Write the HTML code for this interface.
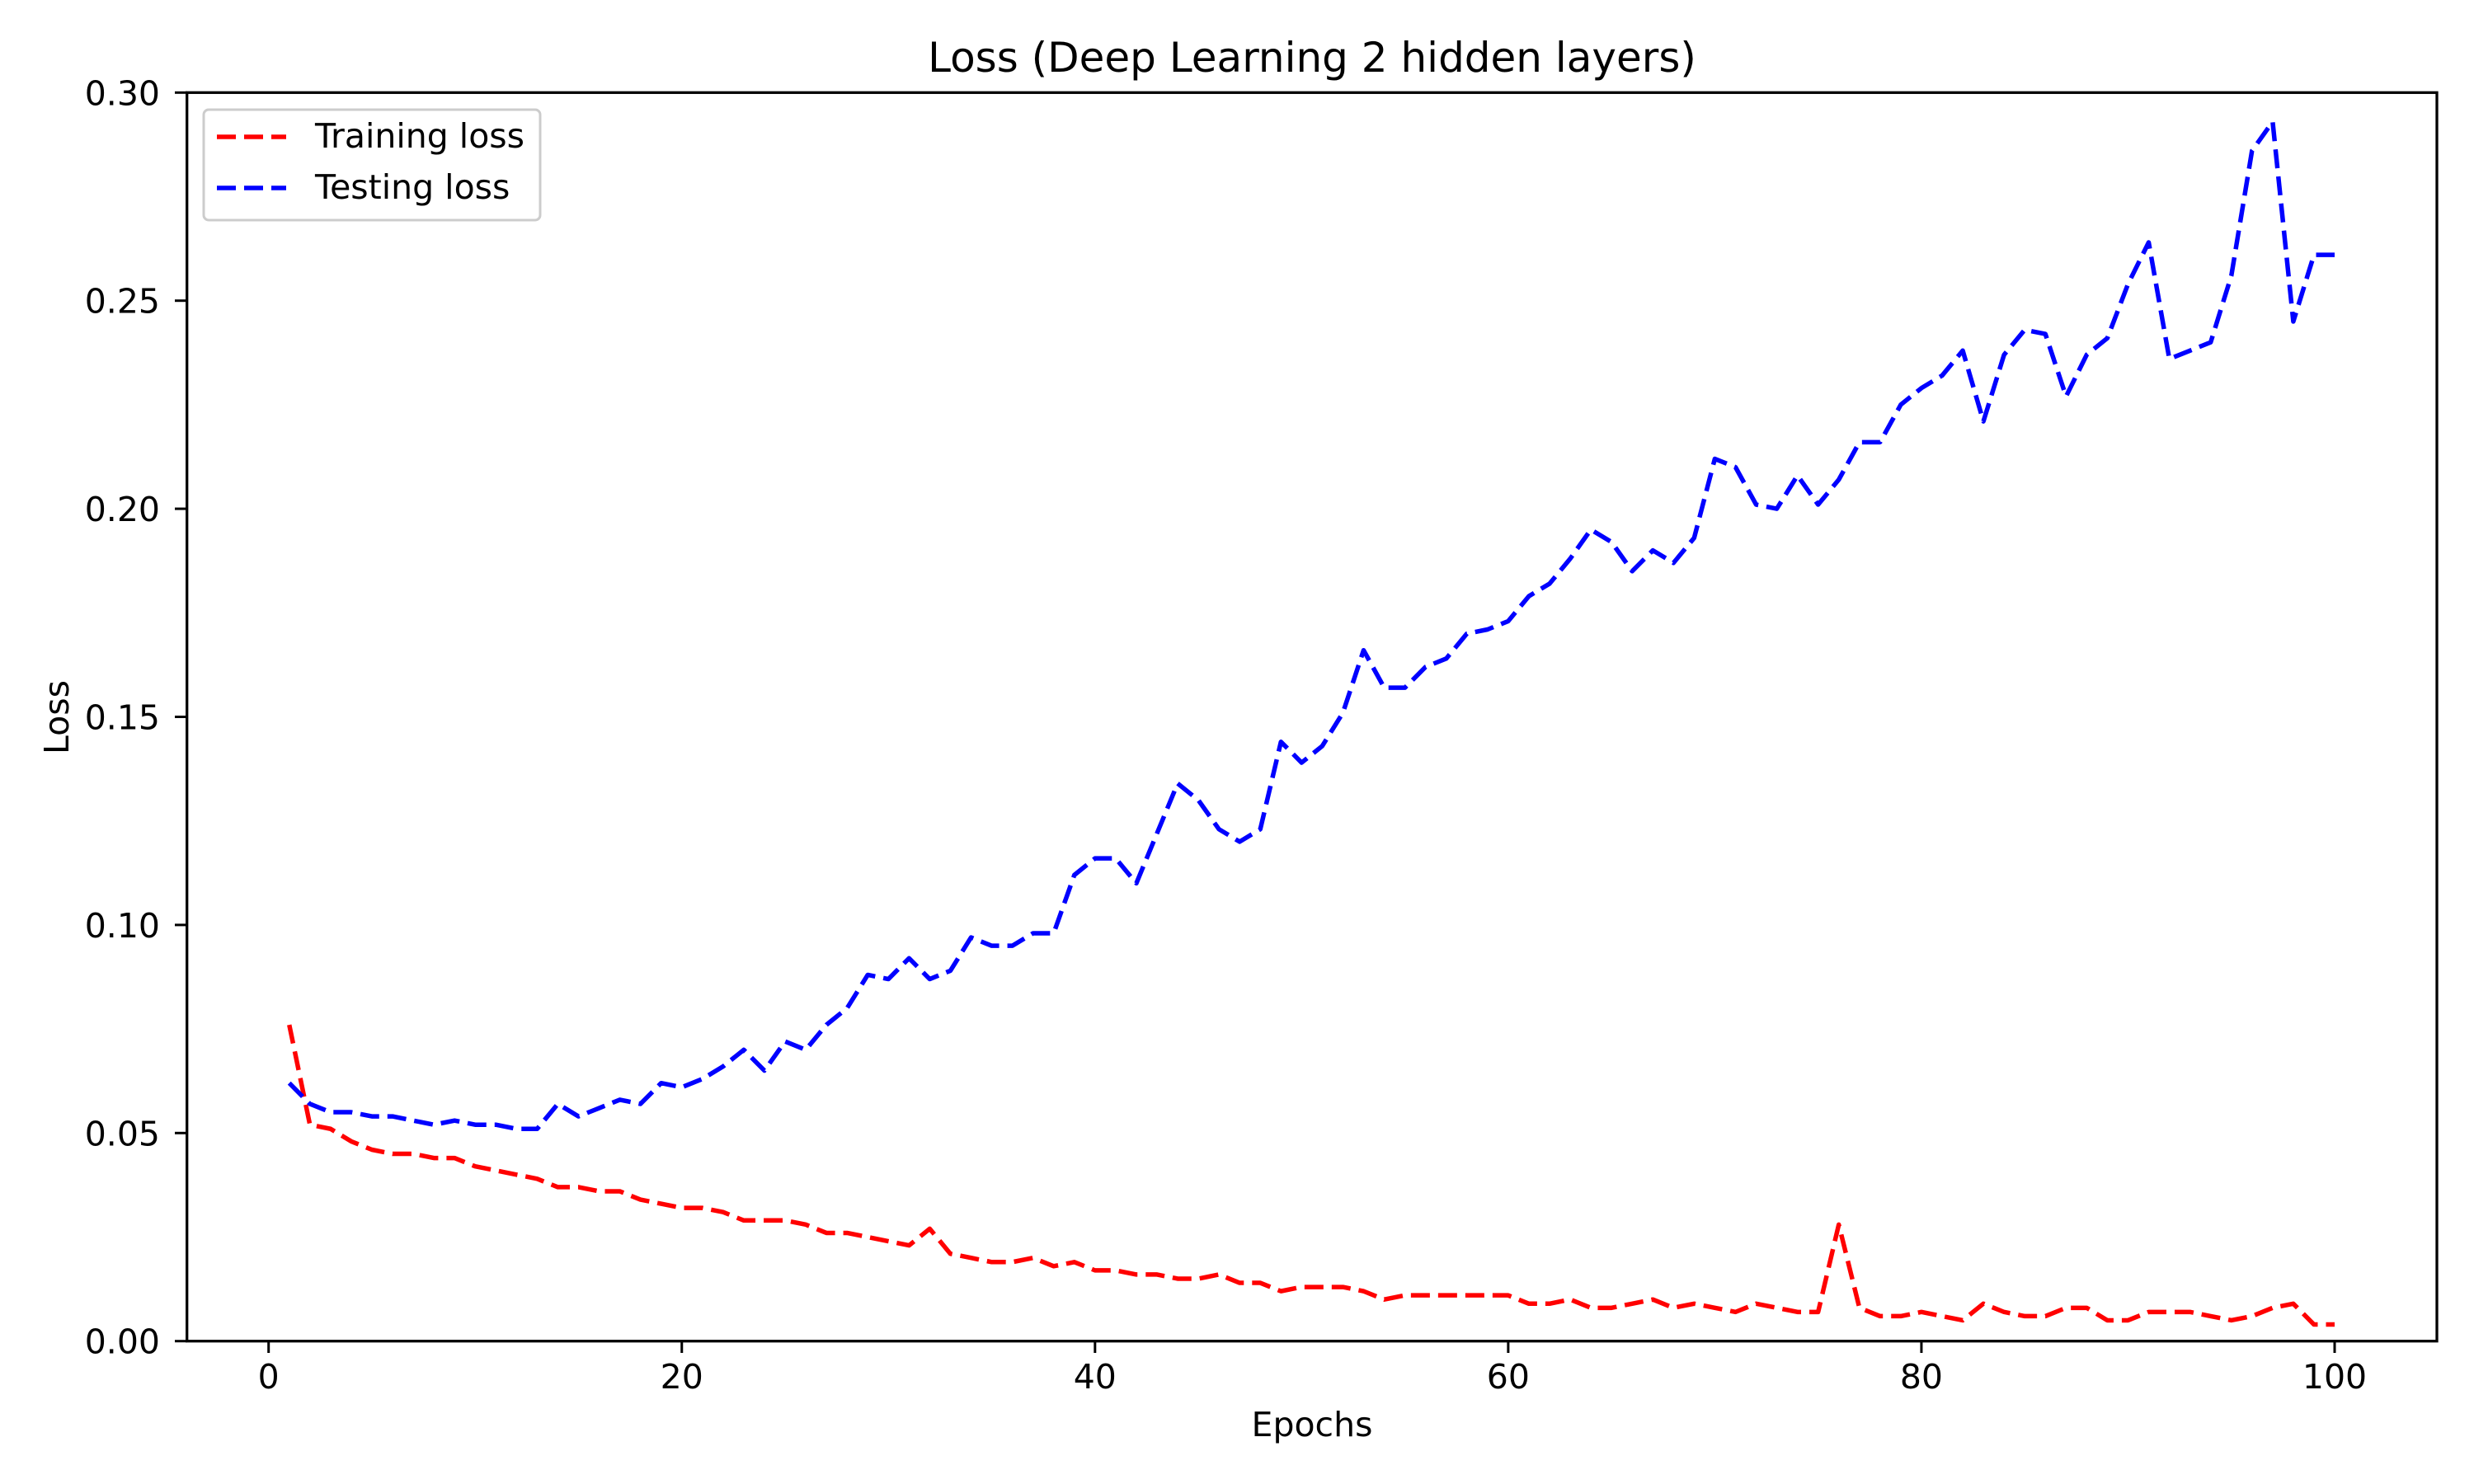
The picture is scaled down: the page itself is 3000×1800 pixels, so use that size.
<!DOCTYPE html>
<html><head><meta charset="utf-8"><style>
html,body{margin:0;padding:0;background:#fff;}
svg{display:block;font-family:"DejaVu Sans","Liberation Sans",sans-serif;}
</style></head><body>
<svg id="chart" width="3000" height="1800" viewBox="0 0 3000 1800" xmlns="http://www.w3.org/2000/svg">
<rect width="3000" height="1800" fill="#fff"/>
<text x="1591" y="87" font-size="50" text-anchor="middle">Loss (Deep Learning 2 hidden layers)</text>
<g id="ticks"></g>
<g id="lines"></g>
<rect x="226.7" y="112.3" width="2728.3" height="1514.4" fill="none" stroke="#000" stroke-width="3.3"/>
<text x="1591" y="1742" font-size="41" text-anchor="middle">Epochs</text>
<text transform="translate(83,870) rotate(-90)" font-size="41" text-anchor="middle">Loss</text>
<g>
<rect x="247" y="133" width="408" height="134" rx="6" fill="#fff" fill-opacity="0.8" stroke="#ccc" stroke-width="3"/>
<line x1="263" y1="166" x2="347" y2="166" stroke="#ff0000" stroke-width="5.5" stroke-dasharray="23,10"/>
<text x="382" y="179" font-size="41">Training loss</text>
<line x1="263" y1="228" x2="347" y2="228" stroke="#0000ff" stroke-width="5.5" stroke-dasharray="23,10"/>
<text x="382" y="241" font-size="41">Testing loss</text>
</g>
</svg>
<script>
const trainLoss=[0.076,0.052,0.051,0.048,0.046,0.045,0.045,0.044,0.044,0.042,0.041,0.040,0.039,0.037,0.037,0.036,0.036,0.034,0.033,0.032,0.032,0.031,0.029,0.029,0.029,0.028,0.026,0.026,0.025,0.024,0.023,0.027,0.021,0.020,0.019,0.019,0.020,0.018,0.019,0.017,0.017,0.016,0.016,0.015,0.015,0.016,0.014,0.014,0.012,0.013,0.013,0.013,0.012,0.010,0.011,0.011,0.011,0.011,0.011,0.011,0.009,0.009,0.010,0.008,0.008,0.009,0.010,0.008,0.009,0.008,0.007,0.009,0.008,0.007,0.007,0.028,0.008,0.006,0.006,0.007,0.006,0.005,0.009,0.007,0.006,0.006,0.008,0.008,0.005,0.005,0.007,0.007,0.007,0.006,0.005,0.006,0.008,0.009,0.004,0.004];
const testLoss=[0.062,0.057,0.055,0.055,0.054,0.054,0.053,0.052,0.053,0.052,0.052,0.051,0.051,0.057,0.054,0.056,0.058,0.057,0.062,0.061,0.063,0.066,0.070,0.065,0.072,0.070,0.076,0.080,0.088,0.087,0.092,0.087,0.089,0.097,0.095,0.095,0.098,0.098,0.112,0.116,0.116,0.110,0.122,0.134,0.130,0.123,0.120,0.123,0.144,0.139,0.143,0.151,0.166,0.157,0.157,0.162,0.164,0.170,0.171,0.173,0.179,0.182,0.188,0.195,0.192,0.185,0.190,0.187,0.193,0.212,0.210,0.201,0.200,0.208,0.201,0.207,0.216,0.216,0.225,0.229,0.232,0.238,0.221,0.237,0.243,0.242,0.227,0.237,0.241,0.254,0.264,0.236,0.238,0.240,0.256,0.286,0.293,0.245,0.261,0.261];
const xTicks=[0,20,40,60,80,100];
const yTicks=[0,0.05,0.10,0.15,0.20,0.25,0.30];
const yTickLabels=["0.00","0.05","0.10","0.15","0.20","0.25","0.30"];

const NS="http://www.w3.org/2000/svg";
const xS=v=>325.7+(v/100)*(2831-325.7);
const yS=v=>1626.7-(v/0.30)*(1626.7-112.3);
const tg=document.getElementById('ticks');
xTicks.forEach(t=>{
  const l=document.createElementNS(NS,'line');
  
  
  l.setAttribute('x1',xS(t));l.setAttribute('x2',xS(t));l.setAttribute('y1',1626.7);l.setAttribute('y2',1641);
  l.setAttribute('stroke','#000');l.setAttribute('stroke-width','3');tg.appendChild(l);
  const tx=document.createElementNS(NS,'text');
  
  
  tx.setAttribute('x',xS(t));tx.setAttribute('y',1684);tx.setAttribute('font-size','41');tx.setAttribute('text-anchor','middle');
  tx.textContent=t;tg.appendChild(tx);
});
yTicks.forEach((t,i)=>{
  const l=document.createElementNS(NS,'line');
  
  
  l.setAttribute('x1',212);l.setAttribute('x2',226.7);l.setAttribute('y1',yS(t));l.setAttribute('y2',yS(t));
  l.setAttribute('stroke','#000');l.setAttribute('stroke-width','3');tg.appendChild(l);
  const tx=document.createElementNS(NS,'text');
  
  
  tx.setAttribute('x',194);tx.setAttribute('y',yS(t)+15);tx.setAttribute('font-size','41');tx.setAttribute('text-anchor','end');
  tx.textContent=yTickLabels[i];tg.appendChild(tx);
});
const lg=document.getElementById('lines');
function drawLine(arr,color,name){
  const p=document.createElementNS(NS,'polyline');
  
  
  p.setAttribute('points',arr.map((v,i)=>xS(i+1)+','+yS(v)).join(' '));
  p.setAttribute('fill','none');p.setAttribute('stroke',color);p.setAttribute('stroke-width','5.5');
  p.setAttribute('stroke-dasharray','23,10');p.setAttribute('stroke-linejoin','round');
  lg.appendChild(p);
}
drawLine(trainLoss,'#ff0000','training-loss-line');
drawLine(testLoss,'#0000ff','testing-loss-line');
</script>
</body></html>
